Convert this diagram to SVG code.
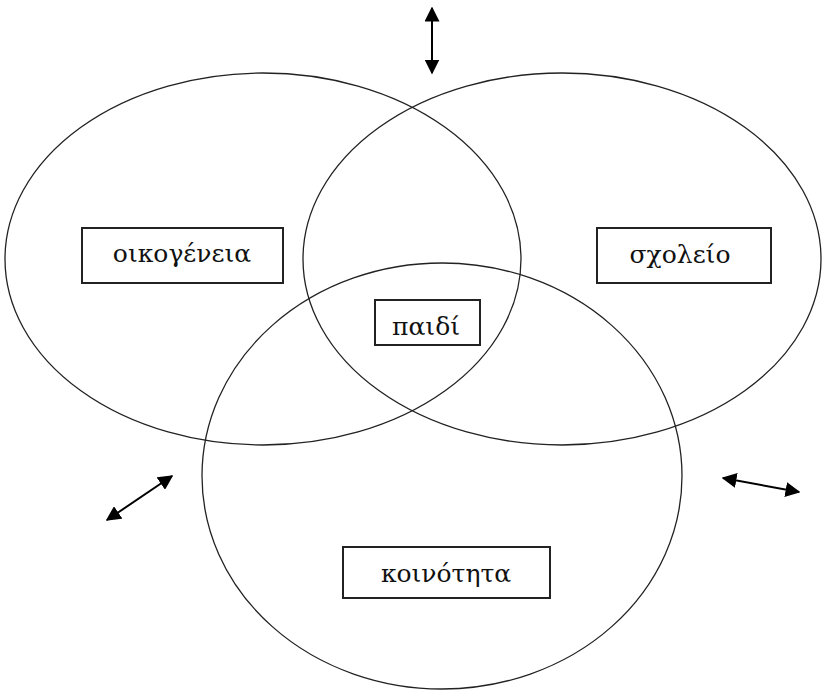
<svg xmlns="http://www.w3.org/2000/svg" width="825" height="690" viewBox="0 0 825 690">
<defs>
<marker id="ah" viewBox="0 0 10 10" refX="9" refY="5" markerWidth="15" markerHeight="15" markerUnits="userSpaceOnUse" orient="auto-start-reverse">
<path d="M0,0 L10,5 L0,10 z" fill="#000"/>
</marker>
<style>
.ell{fill:none;stroke:#222;stroke-width:1.3}
.box{fill:#fff;stroke:#222;stroke-width:2}
.lbl{font-family:"DejaVu Serif","Liberation Serif",serif;font-size:25px;fill:#111;text-anchor:middle}
.arr{stroke:#000;stroke-width:2;fill:none;marker-start:url(#ah);marker-end:url(#ah)}
</style>
</defs>
<g id="circles">
<ellipse id="e-family" class="ell" cx="263" cy="259" rx="258" ry="186"/>
<ellipse id="e-school" class="ell" cx="562" cy="259" rx="259" ry="186"/>
<ellipse id="e-community" class="ell" cx="442" cy="476" rx="240" ry="213"/>
</g>
<g id="connectors">
<line class="arr" x1="432" y1="8" x2="432" y2="73"/>
<line class="arr" x1="107" y1="520" x2="172" y2="476"/>
<line class="arr" x1="723" y1="478" x2="799" y2="492"/>
</g>
<g id="family">
<rect class="box" x="82" y="228" width="201" height="55"/>
<text class="lbl" x="182" y="262">οικογένεια</text>
</g>
<g id="school">
<rect class="box" x="597" y="228" width="174" height="55"/>
<text class="lbl" x="680" y="263">σχολείο</text>
</g>
<g id="child">
<rect class="box" x="375" y="300" width="105" height="45"/>
<text class="lbl" x="426" y="335">παιδί</text>
</g>
<g id="community">
<rect class="box" x="343" y="547" width="207" height="51"/>
<text class="lbl" x="446" y="582">κοινότητα</text>
</g>
</svg>
